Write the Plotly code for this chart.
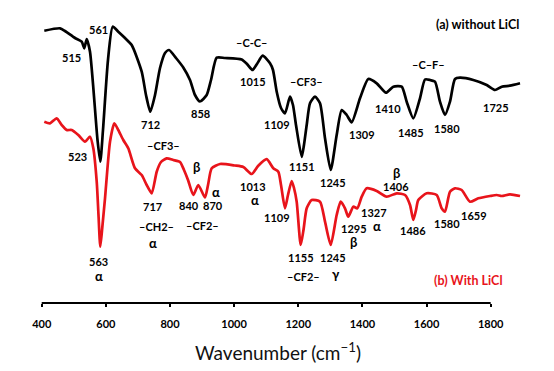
import plotly.graph_objects as go

# ---- data (wavenumber in cm^-1, transmittance in arbitrary units) ----
wn_a = [408.1, 457.1, 472.7, 503.8, 524.7, 532.8, 540.3, 550.6, 574.0, 582.7, 591.1, 606.7, 621.4,
        638.8, 659.7, 680.6, 711.8, 725.2, 738.6, 753.3, 768.9, 784.5, 797.0, 818.8, 841.5, 862.4,
        878.0, 893.5, 914.5, 927.9, 945.7, 971.6, 1023.6, 1040.2, 1057.3, 1071.3, 1089.1, 1111.9,
        1121.2, 1132.8, 1146.2, 1158.6, 1174.2, 1183.5, 1192.9, 1210.7, 1217.8, 1226.3, 1236.6,
        1252.2, 1267.8, 1283.4, 1301.2, 1319.8, 1335.4, 1351.0, 1366.6, 1392.5, 1418.4, 1444.6,
        1473.6, 1496.3, 1522.5, 1538.1, 1558.7, 1579.6, 1595.2, 1610.8, 1626.3, 1641.9, 1657.5,
        1673.1, 1688.7, 1704.3, 1745.8, 1787.6, 1813.5, 1834.4, 1860.3, 1891.5]
t_a = [272.3, 274.7, 272.0, 265.0, 261.3, 254.7, 264.0, 251.3, 163.0, 141.3, 173.0, 243.0, 276.3,
       271.3, 265.0, 258.0, 231.3, 208.0, 191.3, 208.0, 235.0, 250.0, 253.0, 245.0, 235.5, 223.0,
       208.0, 201.5, 208.0, 223.0, 245.3, 245.0, 243.5, 239.0, 233.0, 239.0, 247.3, 239.7,
       233.0, 211.3, 195.0, 189.7, 206.3, 198.0, 178.0, 146.0, 158.0, 178.0, 199.7,
       206.3, 199.7, 164.7, 133.0, 168.0, 193.0, 188.0, 180.7, 204.7, 224.0, 219.7,
       210.3, 216.3, 216.3, 201.3, 184.7, 204.7, 223.5, 223.0, 221.3, 201.3, 188.0,
       201.3, 224.0, 225.3, 223.0, 218.0, 213.0, 216.3, 217.3, 219.7]

wn_b = [408.1, 425.9, 446.8, 462.4, 478.0, 493.5, 514.1, 535.0, 550.6, 560.9, 571.5, 577.1, 582.7,
        589.6, 597.4, 613.0, 626.4, 638.8, 654.4, 670.0, 690.9, 711.8, 727.4, 743.0, 758.6, 772.0,
        789.8, 810.3, 831.2, 843.7, 856.2, 872.7, 888.3, 909.2, 918.6, 930.1, 956.0, 1002.7,
        1028.6, 1054.8, 1074.5, 1101.6, 1122.2, 1137.8, 1146.2, 1158.6, 1168.0, 1179.5, 1186.7,
        1195.1, 1207.6, 1216.3, 1226.3, 1241.9, 1267.8, 1283.4, 1301.2, 1319.8, 1332.3, 1345.7,
        1356.0, 1371.6, 1384.1, 1397.8, 1413.4, 1444.6, 1475.8, 1507.1, 1532.9, 1548.5, 1558.7,
        1567.2, 1574.3, 1600.5, 1631.7, 1647.2, 1657.5, 1673.1, 1688.7, 1709.6, 1735.5, 1761.4,
        1797.9, 1818.8, 1834.4, 1860.3, 1891.5]
t_b = [181.3, 179.7, 184.7, 178.0, 173.0, 173.0, 168.0, 161.3, 166.3, 154.7, 121.3, 88.0, 56.3,
       78.0, 104.7, 161.3, 179.7, 173.0, 163.0, 154.7, 134.7, 128.0, 118.0, 109.7, 131.3, 141.0,
       144.7, 143.0, 141.0, 133.0, 123.0, 108.0, 118.0, 105.5, 118.0, 134.7, 139.0, 137.5,
       136.0, 129.0, 137.0, 143.8, 134.7, 131.3, 118.0, 94.7, 108.0, 122.0, 115.0,
       101.3, 58.0, 73.0, 94.7, 103.0, 101.3, 81.3, 58.0, 88.0, 101.3, 94.7,
       86.3, 96.3, 94.7, 106.3, 114.7, 112.0, 106.3, 109.7, 108.0, 98.0, 83.0,
       93.0, 103.0, 109.7, 108.0, 94.7, 91.3, 111.3, 114.7, 113.0, 101.3, 104.7,
       107.0, 108.0, 107.0, 108.7, 107.0]

tick_vals = [400, 600, 800, 1000, 1200, 1400, 1600, 1800]
tick_text = [str(v) for v in tick_vals]

FONT = "Lato"

fig = go.Figure()
fig.add_trace(go.Scatter(x=wn_a, y=t_a, mode="lines", name="(a) without LiCl",
                         line=dict(color="black", width=2.7, shape="spline", smoothing=0.6)))
fig.add_trace(go.Scatter(x=wn_b, y=t_b, mode="lines", name="(b) With LiCl",
                         line=dict(color="#e8141b", width=2.7, shape="spline", smoothing=0.6)))

# pixel -> data helpers for label placement
def X(px):
    return 400 + (px - 41.7) * 3.1181

def Y(py):
    return 303 - py

labels = [
    # black spectrum
    ("515", 71.7, 57.3, 11, "black"), ("561", 98.3, 29.3, 11, "black"),
    ("712", 150, 124, 11, "black"), ("858", 200.7, 113.3, 11, "black"),
    ("–C-C–", 251.7, 42.7, 11, "black"), ("1015", 252.7, 81.7, 11, "black"),
    ("–CF3–", 306.7, 81, 11, "black"), ("1109", 276.7, 124.3, 11, "black"),
    ("1151", 301.7, 166.7, 11, "black"), ("1245", 333.3, 182.3, 11, "black"),
    ("1309", 361.7, 134, 11, "black"), ("1410", 388.3, 108.3, 11, "black"),
    ("1485", 411, 132.3, 11, "black"), ("1580", 446.7, 128.3, 11, "black"),
    ("–C–F–", 428.3, 64, 11, "black"), ("1725", 496, 107.3, 11, "black"),
    # red spectrum
    ("523", 77.7, 156.7, 11, "black"), ("563", 98.3, 261.7, 11, "black"),
    ("α", 99, 275.5, 13, "black"), ("–CF3–", 163.3, 145, 11, "black"),
    ("717", 152.3, 206.7, 11, "black"), ("–CH2–", 156.7, 226.7, 11, "black"),
    ("α", 152.7, 242.7, 13, "black"), ("β", 196, 167.3, 13, "black"),
    ("840", 189, 205, 11, "black"), ("α", 215.7, 191.7, 13, "black"),
    ("870", 213.3, 205.7, 11, "black"), ("–CF2–", 202.7, 225, 11, "black"),
    ("1013", 253.3, 186, 11, "black"), ("α", 255.3, 200, 13, "black"),
    ("1109", 276.7, 217.3, 11, "black"), ("1155", 301, 257.7, 11, "black"),
    ("1245", 332.7, 257.7, 11, "black"), ("–CF2–", 303.3, 276.7, 11, "black"),
    ("γ", 336, 274, 13, "black"), ("1295", 354, 228.3, 11, "black"),
    ("β", 353.3, 241.5, 13, "black"), ("1327", 374, 212.5, 11, "black"),
    ("α", 377.3, 226, 13, "black"), ("β", 396.7, 172.7, 13, "black"),
    ("1406", 395.7, 186.7, 11, "black"), ("1486", 412.7, 230, 11, "black"),
    ("1580", 446.7, 223.3, 11, "black"), ("1659", 474, 215, 11, "black"),
    # legends
    ("(a) without LiCl", 477.3, 24, 12.5, "black"),
    ("(b) With LiCl", 468.3, 280.7, 12.5, "#e8141b"),
]

for txt, px, py, size, col in labels:
    fig.add_annotation(x=X(px), y=Y(py), xref="x", yref="y", text="<b>%s</b>" % txt,
                       showarrow=False, font=dict(family=FONT, size=size, color=col),
                       xanchor="center", yanchor="middle")

# axis title (paper coordinates, below the plot area)
fig.add_annotation(x=(277.5 - 30) / 500, y=-48 / 293, xref="paper", yref="paper",
                   text="Wavenumber (cm<sup>−1</sup>)",
                   showarrow=False, font=dict(family=FONT, size=19, color="#111"),
                   xanchor="center", yanchor="middle")

# axis line only between 400 and 1800
fig.add_shape(type="line", x0=400, x1=1800, y0=0, y1=0, xref="x", yref="paper",
              line=dict(color="black", width=2))

# the page adds an 8px body margin, so margins are reduced by 8px to compensate
fig.update_layout(
    width=554, height=371,
    margin=dict(l=22, r=32, t=2, b=76),
    paper_bgcolor="white", plot_bgcolor="white",
    showlegend=False,
    xaxis=dict(range=[363.5, 1922.6], tickvals=tick_vals, ticktext=["<b>%s</b>" % t for t in tick_text],
               showgrid=False, zeroline=False, showline=False,
               ticks="outside", ticklen=3, tickwidth=2, tickcolor="black",
               ticklabelstandoff=8,
               tickfont=dict(family=FONT, size=11, color="black")),
    yaxis=dict(range=[0, 293], visible=False, showgrid=False, zeroline=False),
)

fig.write_html("out.html")
